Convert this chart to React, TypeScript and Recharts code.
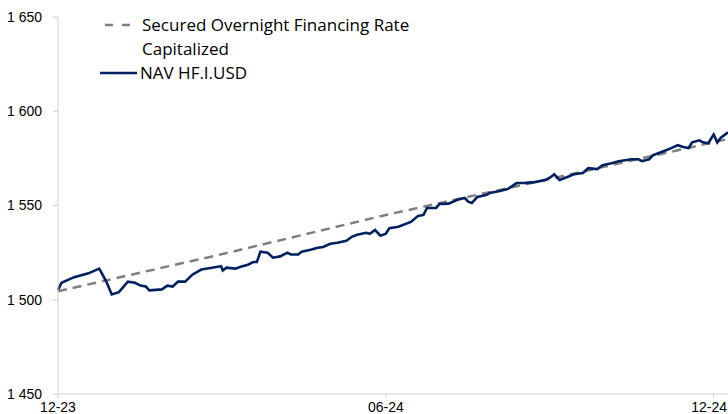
import { LineChart, Line, XAxis, YAxis } from 'recharts';

// x values are days since end of Dec 2023
const navDays = [
  0, 2, 9, 17, 23, 27, 30, 34, 39, 43, 46, 49, 51, 58, 61, 64, 67, 71, 75, 80,
  86, 91, 92, 94, 99, 102, 106, 109, 111, 113, 117, 120, 124, 128, 130, 134, 136, 141, 145, 148,
  152, 156, 161, 164, 167, 172, 174, 177, 180, 183, 185, 190, 197, 201, 204, 206, 211, 213, 218, 223,
  227, 229, 231, 234, 239, 241, 246, 251, 256, 261, 266, 272, 275, 277, 279, 280, 284, 288, 293, 296,
  301, 304, 309, 313, 320, 324, 326, 330, 332, 335, 338, 342, 346, 349, 352, 354, 358, 360, 363, 366,
  368, 370, 374,
];
const navValues = [
  1505.2, 1509, 1512, 1514, 1516.5, 1509.6, 1502.8, 1504, 1509.6, 1509, 1507.5, 1507, 1505, 1505.5, 1507.5, 1507, 1509.6, 1509.6, 1513.3, 1516,
  1517, 1517.8, 1515.5, 1517, 1516.5, 1517.5, 1518.6, 1520, 1520, 1525.5, 1525, 1522.3, 1523, 1525, 1524, 1524, 1525.5, 1526.5, 1527.6, 1528,
  1529.7, 1530.2, 1531.3, 1533.4, 1534.5, 1535.5, 1535, 1537, 1534, 1535, 1538, 1538.7, 1541.3, 1544.5, 1545, 1548.7, 1548.7, 1550.8, 1551, 1553,
  1554, 1552, 1551.3, 1554.5, 1555.5, 1556.6, 1557.6, 1558.7, 1561.9, 1562, 1562.4, 1563.5, 1565, 1566.6, 1564.5, 1563.5, 1565, 1566.6, 1567.2, 1569.8,
  1569.3, 1571.4, 1572.4, 1573.5, 1574.5, 1574.5, 1573.5, 1574.5, 1576.6, 1577.7, 1578.8, 1580.3, 1582, 1581, 1580.5, 1583.5, 1584.6, 1583.5, 1583, 1587.7,
  1583.5, 1586, 1588.8,
];

const sofrDays = [0, 93, 183, 277, 374];
const sofrValues = [1504.5, 1524.5, 1545, 1564.6, 1585.3];

const tickDays = [0, 183, 366];
const tickLabels = ['12-23', '06-24', '12-24'];
const yTicks = [1450, 1500, 1550, 1600, 1650];

const navData = navDays.map((d, i) => ({ day: d, nav: navValues[i] }));
const sofrData = sofrDays.map((d, i) => ({ day: d, sofr: sofrValues[i] }));

const NAVY = '#002060';
const GREY = '#808080';
const AXIS = '#d0d0d0';
const TICK_FONT = '"Liberation Sans", Arial, sans-serif';

// last label would run off the right edge, so anchor it at its end
function XTick(props: any) {
  const { x, y, payload } = props;
  const i = tickDays.indexOf(payload.value);
  const last = i === tickDays.length - 1;
  return (
    <text
      x={last ? 727 : x}
      y={y}
      dy="0.71em"
      textAnchor={last ? 'end' : 'middle'}
      fill="#000"
      fontSize={14}
      fontFamily={TICK_FONT}
    >
      {tickLabels[i] ?? ''}
    </text>
  );
}

function LegendBox() {
  return (
    <div
      style={{
        position: 'absolute',
        left: 100,
        top: 13,
        width: 330,
        height: 72,
        fontFamily: '"Open Sans", Lato, sans-serif',
        fontSize: 17,
        color: '#000',
      }}
    >
      <svg width={40} height={72} style={{ position: 'absolute', left: 0, top: 0 }}>
        <line x1={5} y1={12} x2={31} y2={12} stroke={GREY} strokeWidth={2.5} strokeDasharray="8 9" />
        <line x1={0} y1={60} x2={37} y2={60} stroke={NAVY} strokeWidth={2.5} />
      </svg>
      <div style={{ position: 'absolute', left: 42, top: 0, lineHeight: '24px', whiteSpace: 'nowrap' }}>
        Secured Overnight Financing Rate
      </div>
      <div style={{ position: 'absolute', left: 42, top: 24, lineHeight: '24px' }}>Capitalized</div>
      <div style={{ position: 'absolute', left: 40, top: 48, lineHeight: '24px' }}>NAV HF.I.USD</div>
    </div>
  );
}

export default function App() {
  return (
    <div style={{ position: 'relative', width: 728, height: 414 }}>
      <style>{'body{margin:0}'}</style>
      <LineChart width={728} height={414} margin={{ top: 17, right: 0, bottom: 0, left: 0 }}>
        <XAxis
          dataKey="day"
          type="number"
          domain={[0, 374]}
          ticks={tickDays}
          height={20}
          stroke={AXIS}
          tickSize={4}
          tickMargin={4}
          tick={<XTick />}
          allowDuplicatedCategory={false}
        />
        <YAxis
          type="number"
          domain={[1450, 1650]}
          ticks={yTicks}
          tickFormatter={(v: number) => `1 ${String(v).slice(1)}`}
          width={58}
          stroke={AXIS}
          tickSize={5}
          tickMargin={11}
          tick={{ fill: '#000', fontSize: 14, fontFamily: TICK_FONT }}
        />
        <Line
          data={sofrData}
          dataKey="sofr"
          type="linear"
          stroke={GREY}
          strokeWidth={2.5}
          strokeDasharray="9 6"
          dot={false}
          isAnimationActive={false}
        />
        <Line
          data={navData}
          dataKey="nav"
          type="linear"
          stroke={NAVY}
          strokeWidth={2.6}
          dot={false}
          isAnimationActive={false}
        />
      </LineChart>
      <LegendBox />
    </div>
  );
}
